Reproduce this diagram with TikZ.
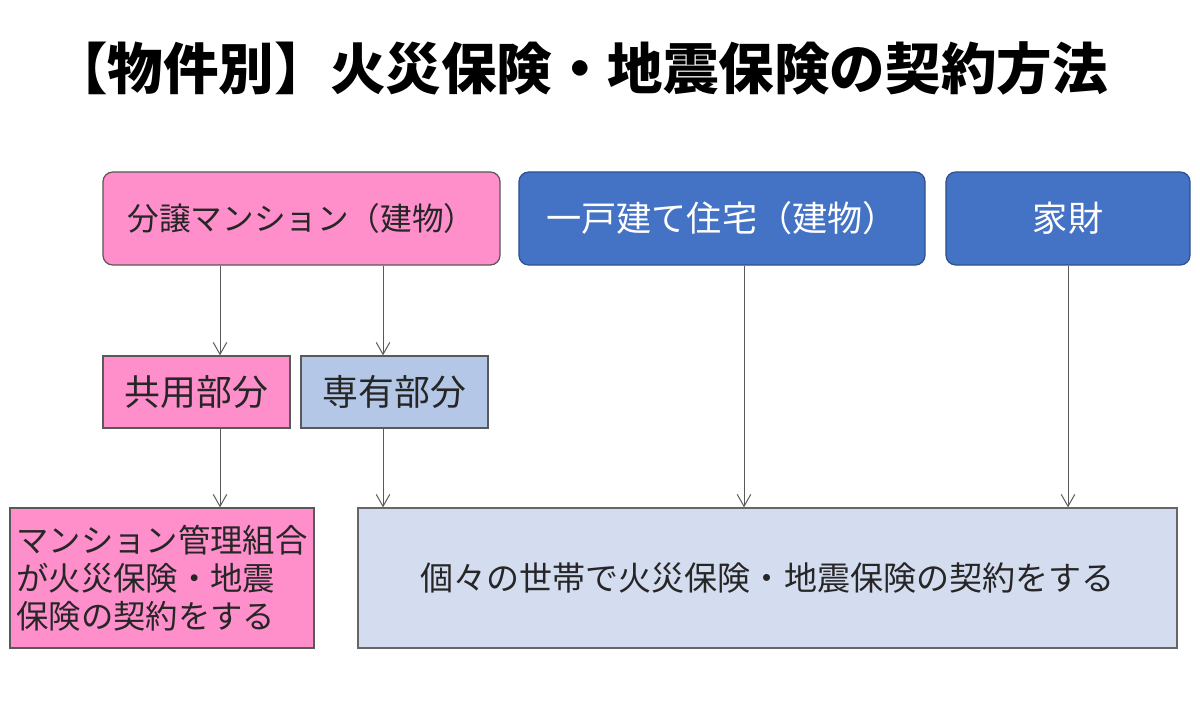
\documentclass[tikz,border=0pt]{standalone}
\usepackage{fontspec}
\setmainfont{Noto Sans CJK JP}
\usepackage{xcolor}
\usepackage{tikz}
\usetikzlibrary{arrows.meta,positioning,calc}

\definecolor{pinkfill}{HTML}{FF8FCB}
\definecolor{bluefill}{HTML}{4472C4}
\definecolor{blueline}{HTML}{2F528F}
\definecolor{palefill}{HTML}{B4C7E7}
\definecolor{lightfill}{HTML}{D4DDF0}

\begin{document}
\begin{tikzpicture}[
    x=0.025cm,y=-0.025cm,
    pinkbox/.style={draw=black!65, fill=pinkfill, line width=0.9pt, inner sep=0pt, align=center, text=black!85},
    bluebox/.style={draw=blueline, fill=bluefill, rounded corners=7pt, line width=0.9pt, inner sep=0pt, align=center, text=white},
    palebox/.style={draw=black!65, fill=palefill, line width=0.9pt, inner sep=0pt, align=center, text=black!85},
    lightbox/.style={draw=black!60, fill=lightfill, line width=0.9pt, inner sep=0pt, align=center, text=black!85},
    edge/.style={-{Straight Barb[length=3mm,width=3.4mm]}, draw=black!65, line width=0.7pt},
    ttl/.style={font=\bfseries\fontsize{39.5}{42}\selectfont}
  ]
    \fill[white] (0,0) rectangle (1200,702);
    \useasboundingbox (0,0) rectangle (1200,702);

    \node[ttl] (title) at (580,68) {【物件別】火災保険・地震保険の契約方法};

    \node[pinkbox, rounded corners=7pt, minimum width=9.925cm, minimum height=2.325cm, font=\fontsize{22.5}{25}\selectfont] (mansion) at (301.5,218.5) {分譲マンション（建物）};
    \node[bluebox, minimum width=10.15cm, minimum height=2.325cm, font=\fontsize{25}{28}\selectfont] (kodate) at (722,218.5) {一戸建て住宅（建物）};
    \node[bluebox, minimum width=6.1cm, minimum height=2.325cm, font=\fontsize{25}{28}\selectfont] (kazai) at (1068,218.5) {家財};

    \node[pinkbox, minimum width=4.675cm, minimum height=1.8cm, font=\fontsize{25.5}{28}\selectfont] (kyoyo) at (196.5,392) {共用部分};
    \node[palebox, minimum width=4.675cm, minimum height=1.8cm, font=\fontsize{25.5}{28}\selectfont] (senyu) at (394.5,392) {専有部分};

    \node[pinkbox, minimum width=7.6cm, minimum height=3.5cm, font=\fontsize{23}{27}\selectfont, align=left] (kumiai) at (162,578) {マンション管理組合\\が火災保険・地震\\保険の契約をする};
    \node[lightbox, minimum width=20.475cm, minimum height=3.5cm, font=\fontsize{23.5}{27}\selectfont] (setai) at (767.5,578) {個々の世帯で火災保険・地震保険の契約をする};

    \draw[edge] (mansion.south -| 220,0) -- (kyoyo.north -| 220,0);
    \draw[edge] (mansion.south -| 383,0) -- (senyu.north -| 383,0);
    \draw[edge] (kyoyo.south -| 220,0) -- (kumiai.north -| 220,0);
    \draw[edge] (senyu.south -| 383,0) -- (setai.north -| 383,0);
    \draw[edge] (kodate.south -| 744,0) -- (setai.north -| 744,0);
    \draw[edge] (kazai.south -| 1068,0) -- (setai.north -| 1068,0);
  \end{tikzpicture}
\end{document}
